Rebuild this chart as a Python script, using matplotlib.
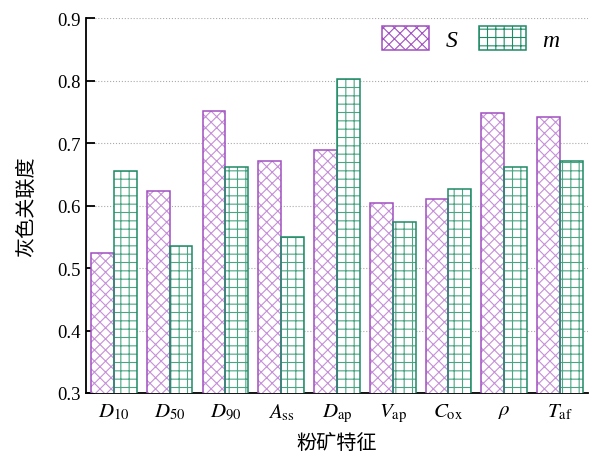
import numpy as np
import matplotlib
matplotlib.use("Agg")
import matplotlib.pyplot as plt
from matplotlib.patches import Patch

plt.rcParams["font.family"] = ["Liberation Serif", "Noto Sans CJK SC"]
plt.rcParams["mathtext.fontset"] = "stix"
plt.rcParams["hatch.linewidth"] = 0.8

features = [r"$D_{\mathrm{10}}$", r"$D_{\mathrm{50}}$", r"$D_{\mathrm{90}}$",
            r"$A_{\mathrm{ss}}$", r"$D_{\mathrm{ap}}$", r"$V_{\mathrm{ap}}$",
            r"$C_{\mathrm{ox}}$", r"$\rho$", r"$T_{\mathrm{af}}$"]
s_values = [0.524, 0.624, 0.751, 0.671, 0.689, 0.604, 0.610, 0.748, 0.741]
m_values = [0.656, 0.536, 0.661, 0.549, 0.802, 0.573, 0.626, 0.662, 0.672]
y_ticks = [0.3, 0.4, 0.5, 0.6, 0.7, 0.8, 0.9]

purple = "#a050c0"
purple_hatch = "#c590d8"
green = "#1f8a66"
green_hatch = "#4aa584"

fig = plt.figure(figsize=(5.89, 4.6), dpi=100)
ax = fig.add_axes([0.146, 0.1435, 0.852, 0.815])

x = np.arange(len(features))
w = 0.41


def hatched_bars(pos, vals, edge, hatch_col, hatch):
    # hatch layer in a lighter tint, then a crisp outline on top
    ax.bar(pos, vals, w, facecolor="white", edgecolor=hatch_col, hatch=hatch,
           linewidth=0, zorder=3)
    ax.bar(pos, vals, w, facecolor="none", edgecolor=edge, linewidth=1.1, zorder=4)


hatched_bars(x - w / 2, s_values, purple, purple_hatch, "xxx")
hatched_bars(x + w / 2, m_values, green, green_hatch, "++")

ax.set_ylim(0.3, 0.9)
ax.set_xlim(-0.5, len(features) - 0.5)
ax.set_yticks(y_ticks)
ax.set_yticklabels([f"{t:.1f}" for t in y_ticks])
ax.set_xticks(x)
ax.set_xticklabels(features)

for side in ("top", "right"):
    ax.spines[side].set_visible(False)
for side in ("left", "bottom"):
    ax.spines[side].set_linewidth(1.3)

ax.yaxis.grid(True, linestyle=":", color="#aaaaaa", linewidth=0.8, zorder=0)
ax.tick_params(axis="y", direction="in", length=6.5, width=1.3, labelsize=13.5, pad=4)
ax.tick_params(axis="x", direction="in", length=3, width=1.3, labelsize=15, pad=6)

ax.set_ylabel("灰色关联度", fontsize=14.5, family=["Noto Sans CJK SC"], labelpad=14)
ax.set_xlabel("粉矿特征", fontsize=14.5, family=["Noto Sans CJK SC"], labelpad=6)

handles = [
    Patch(facecolor="white", edgecolor=purple, hatch="xxx", linewidth=1.1),
    Patch(facecolor="white", edgecolor=green, hatch="++", linewidth=1.1),
]
ax.legend(handles, ["S", "m"], loc="upper right", bbox_to_anchor=(0.972, 1.016),
          ncol=2, frameon=False,
          prop={"family": "Liberation Serif", "style": "italic", "size": 17},
          handlelength=2.0, handleheight=1.2, columnspacing=0.9,
          handletextpad=0.7, borderaxespad=0.2)

fig.savefig("out.png", dpi=100)
